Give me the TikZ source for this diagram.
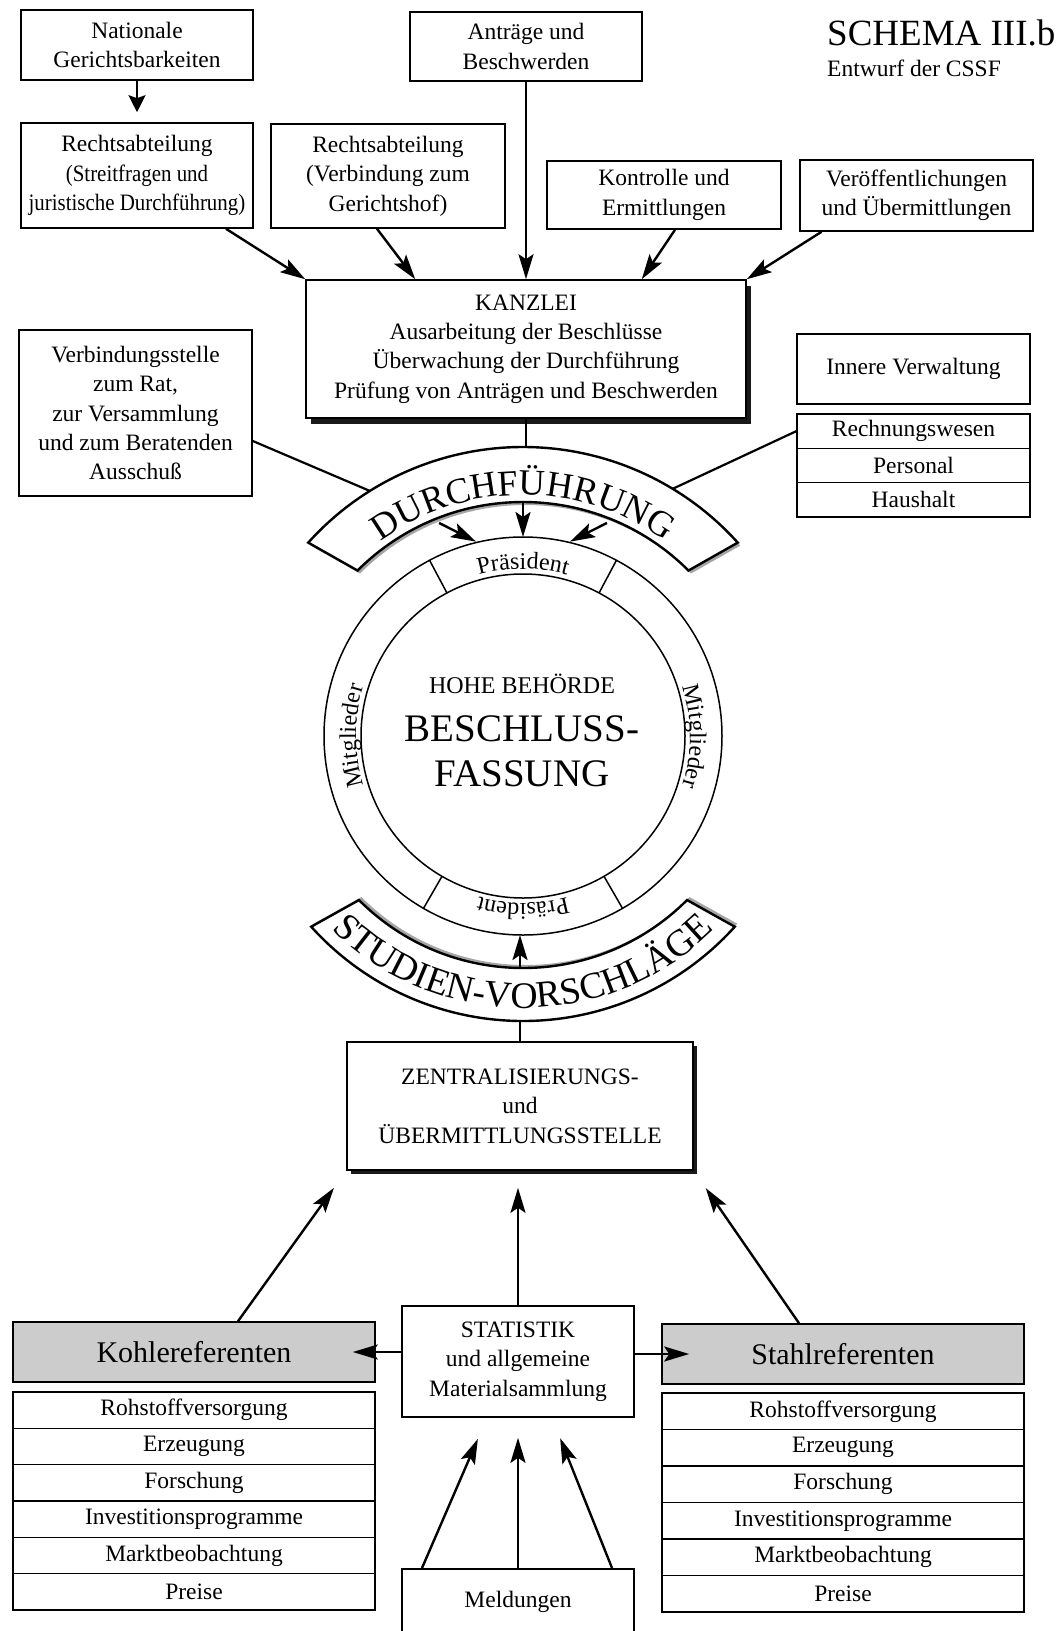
\documentclass[tikz,border=0pt]{standalone}
\usepackage{fontspec}
\setmainfont{Liberation Serif}
\newfontfamily\narrowserif[FakeStretch=0.89]{Liberation Serif}
\usetikzlibrary{arrows.meta,decorations.text,shadows}

% font sizes (1 unit = 1pt)
\newcommand\fsbody{\fontsize{23.5}{29.4}\selectfont}
\newcommand\fsref{\fontsize{30}{34}\selectfont}
\newcommand\fsring{\fontsize{24}{28}\selectfont}
\newcommand\fsbig{\fontsize{39}{44}\selectfont}
\newcommand\fstitle{\fontsize{37}{42}\selectfont}
\newcommand\fsbandtop{\fontsize{36.5}{40}\selectfont}
\newcommand\fsbandbot{\fontsize{37.5}{42}\selectfont}

\begin{document}
\begin{tikzpicture}[x=1pt, y=1pt,
  box/.style={draw, line width=1.6pt, fill=white, inner sep=0pt, align=center, font=\fsbody},
  refbox/.style={box, fill=black!20, font=\fsref, minimum width=362pt, minimum height=60pt},
  cell/.style={box, minimum width=362pt, minimum height=36.4pt},
  arr/.style={line width=2.4pt, -{Stealth[length=25pt, width=15pt, inset=5pt]}},
  natarr/.style={line width=2.4pt, -{Stealth[length=17pt, width=17pt, inset=3pt]}},
  link/.style={line width=2.2pt},
  ringline/.style={line width=1.5pt},
  band/.style={draw, line width=2.4pt, fill=white},
  plain/.style={inner sep=0pt},
]
\useasboundingbox (0,0) rectangle (1060,-1631);
\clip (0,0) rectangle (1060,-1631);
\fill[white] (0,0) rectangle (1060,-1631);

% ---------- High Authority: ring of president and members ----------
\coordinate (c) at (523,-736);
\draw[ringline] (c) circle[radius=199];
\draw[ringline] (c) circle[radius=162];
\foreach \a in {62,118,240,300}
  \draw[ringline] ([shift={(\a:162)}]c) -- ([shift={(\a:199)}]c);

\path[decorate, decoration={text along path, text align=center, text={|\fsring|Präsident}}]
  ([shift={(130:167)}]c) arc[start angle=130, end angle=50, radius=167];
\path[decorate, decoration={text along path, text align=center, text={|\fsring|Mitglieder}}]
  ([shift={(40:167)}]c) arc[start angle=40, end angle=-40, radius=167];
\path[decorate, decoration={text along path, text align=center, text={|\fsring|Präsident}}]
  ([shift={(-50:167)}]c) arc[start angle=-50, end angle=-130, radius=167];
\path[decorate, decoration={text along path, text align=center, text={|\fsring|Mitglieder}}]
  ([shift={(220:167)}]c) arc[start angle=220, end angle=140, radius=167];

\node[plain, font=\fsring, anchor=base] (hb) at (522,-693) {HOHE BEHÖRDE};
\node[plain, font=\fsbig, anchor=base] (bf1) at (522,-741) {BESCHLUSS-};
\node[plain, font=\fsbig, anchor=base] (bf2) at (522,-786) {FASSUNG};

% ---------- curved bands ----------
\draw[band, drop shadow={shadow xshift=2.5pt, shadow yshift=-3pt, opacity=0.35, fill=black}]
  ([shift={(138:289)}]c) arc[start angle=138, end angle=42, radius=289]
  -- ([shift={(45:234)}]c) arc[start angle=45, end angle=135, radius=234] -- cycle;
\path[decorate, decoration={text along path, text align=center, text={|\fsbandtop|DURCHFÜHRUNG}}]
  ([shift={(140:241)}]c) arc[start angle=140, end angle=40, radius=241];

\draw[band, drop shadow={shadow xshift=2.5pt, shadow yshift=3pt, opacity=0.35, fill=black}]
  ([shift={(222:285)}]c) arc[start angle=222, end angle=318, radius=285]
  -- ([shift={(315:232)}]c) arc[start angle=315, end angle=225, radius=232] -- cycle;
\path[decorate, decoration={text along path, text align=center, text={|\fsbandbot|STUDIEN-VORSCHLÄGE}}]
  ([shift={(218:272)}]c) arc[start angle=218, end angle=322, radius=272];

% attachment points on bands and ring
\coordinate (dtop)   at ([shift={(90:289)}]c);
\coordinate (dleft)  at ([shift={(122:289)}]c);
\coordinate (dright) at ([shift={(58.8:289)}]c);
\coordinate (dli) at ([shift={(111.5:229)}]c);
\coordinate (dlo) at ([shift={(103.6:200)}]c);
\coordinate (dmi) at ([shift={(90:234)}]c);
\coordinate (dmo) at ([shift={(90:199)}]c);
\coordinate (dri) at ([shift={(68.5:229)}]c);
\coordinate (dro) at ([shift={(76.4:200)}]c);
\coordinate (sin)  at ([shift={(270:232)}]c);
\coordinate (sout) at ([shift={(270:285)}]c);
\coordinate (rbot) at ([shift={(270:199)}]c);

\draw[arr] (dli) -- (dlo);
\draw[arr] (dmi) -- (dmo);
\draw[arr] (dri) -- (dro);

% ---------- title ----------
\node[plain, font=\fstitle, anchor=base west] (title) at (827,-45) {SCHEMA III.b};
\node[plain, font=\fsbody, anchor=base west] (subtitle) at (827,-76) {Entwurf der CSSF};

% ---------- upper boxes ----------
\node[box, minimum width=232pt, minimum height=70pt] (nat) at (137,-45) {Nationale\\Gerichtsbarkeiten};
\node[box, minimum width=232pt, minimum height=69pt] (antr) at (526,-46.5) {Anträge und\\Beschwerden};
\node[box, minimum width=232pt, minimum height=105pt] (rechtsa) at (137,-175.5)
  {Rechtsabteilung\\{\narrowserif (Streitfragen und}\\{\narrowserif juristische Durchführung)}};
\node[box, minimum width=234pt, minimum height=104pt] (rechtsb) at (388,-176)
  {Rechtsabteilung\\(Verbindung zum\\Gerichtshof)};
\node[box, minimum width=234pt, minimum height=68pt] (kontr) at (664,-195) {Kontrolle und\\Ermittlungen};
\node[box, minimum width=233pt, minimum height=71pt] (veroeff) at (916.5,-195.5) {Veröffentlichungen\\und Übermittlungen};

\node[box, minimum width=440pt, minimum height=138pt,
      drop shadow={shadow xshift=5pt, shadow yshift=-6pt, opacity=0.9, fill=black}] (kanz) at (526,-349)
  {KANZLEI\\Ausarbeitung der Beschlüsse\\Überwachung der Durchführung\\Prüfung von Anträgen und Beschwerden};

\node[box, minimum width=233pt, minimum height=166pt] (verb) at (135.5,-413)
  {Verbindungsstelle\\zum Rat,\\zur Versammlung\\und zum Beratenden\\Ausschuß};

\node[box, minimum width=233pt, minimum height=70pt] (innere) at (913.5,-369) {Innere Verwaltung};
\node[box, minimum width=233pt, minimum height=34.3pt] (rw) at (913.5,-431.2) {Rechnungswesen};
\node[box, minimum width=233pt, minimum height=34.3pt] (pers) at (913.5,-465.5) {Personal};
\node[box, minimum width=233pt, minimum height=34.3pt] (haus) at (913.5,-499.8) {Haushalt};

% ---------- upper connectors ----------
\draw[natarr, shorten >=10pt] (nat.south) -- (rechtsa.north);
\draw[arr] ([xshift=89pt]rechtsa.south) -- (kanz.north west);
\draw[arr] ([xshift=-11pt]rechtsb.south) -- ([xshift=110pt]kanz.north west);
\draw[arr] (antr.south) -- (antr.south |- kanz.north);
\draw[arr] ([xshift=11pt]kontr.south) -- ([xshift=-105pt]kanz.north east);
\draw[arr] ([xshift=-95pt]veroeff.south) -- (kanz.north east);

\draw[link] (kanz.south) -- (kanz.south |- dtop);
\draw[link] ([yshift=-28pt]verb.east) -- (dleft);
\draw[link] (rw.west) -- (dright);

% ---------- lower part ----------
\node[box, minimum width=346pt, minimum height=128pt,
      drop shadow={shadow xshift=4pt, shadow yshift=-4pt, opacity=0.9, fill=black}] (zentral) at (520,-1106)
  {ZENTRALISIERUNGS-\\und\\ÜBERMITTLUNGSSTELLE};

\draw[arr] (zentral.north |- sin) -- (zentral.north |- rbot);
\draw[link] (zentral.north) -- (zentral.north |- sout);

\node[box, minimum width=232pt, minimum height=111pt] (stat) at (518,-1361.5)
  {STATISTIK\\und allgemeine\\Materialsammlung};

\node[refbox] (kohle) at (194,-1352) {Kohlereferenten};
\node[refbox] (stahl) at (843,-1354) {Stahlreferenten};

\foreach \t [count=\i] in {Rohstoffversorgung,Erzeugung,Forschung,Investitionsprogramme,Marktbeobachtung,Preise}{
  \node[cell] (k\i) at (194,{-1392-36.33*(\i-0.5)}) {\t};
  \node[cell] (s\i) at (843,{-1393-36.5*(\i-0.5)}) {\t};
}

\node[box, minimum width=232pt, minimum height=120pt, anchor=north] (meld) at (518,-1568) {};
\node[plain, font=\fsbody, anchor=base] (meldtext) at (518,-1607) {Meldungen};

% ---------- lower connectors ----------
\draw[arr, shorten >=21pt] ([xshift=44pt]kohle.north) -- (zentral.south west);
\draw[arr, shorten >=17pt] (stat.north) -- (stat.north |- zentral.south);
\draw[arr, shorten >=21pt] ([xshift=-44pt]stahl.north) -- (zentral.south east);

\draw[arr, shorten >=-23pt] (stat.west |- kohle.east) -- (kohle.east);
\draw[arr, shorten >=-28pt] (stat.east |- stahl.west) -- (stahl.west);

\draw[arr, shorten >=23pt] ([xshift=-96pt]meld.north) -- ([xshift=-31pt]stat.south);
\draw[arr, shorten >=20pt] (meld.north) -- (stat.south);
\draw[arr, shorten >=22pt] ([xshift=94pt]meld.north) -- ([xshift=34pt]stat.south);
\end{tikzpicture}
\end{document}
